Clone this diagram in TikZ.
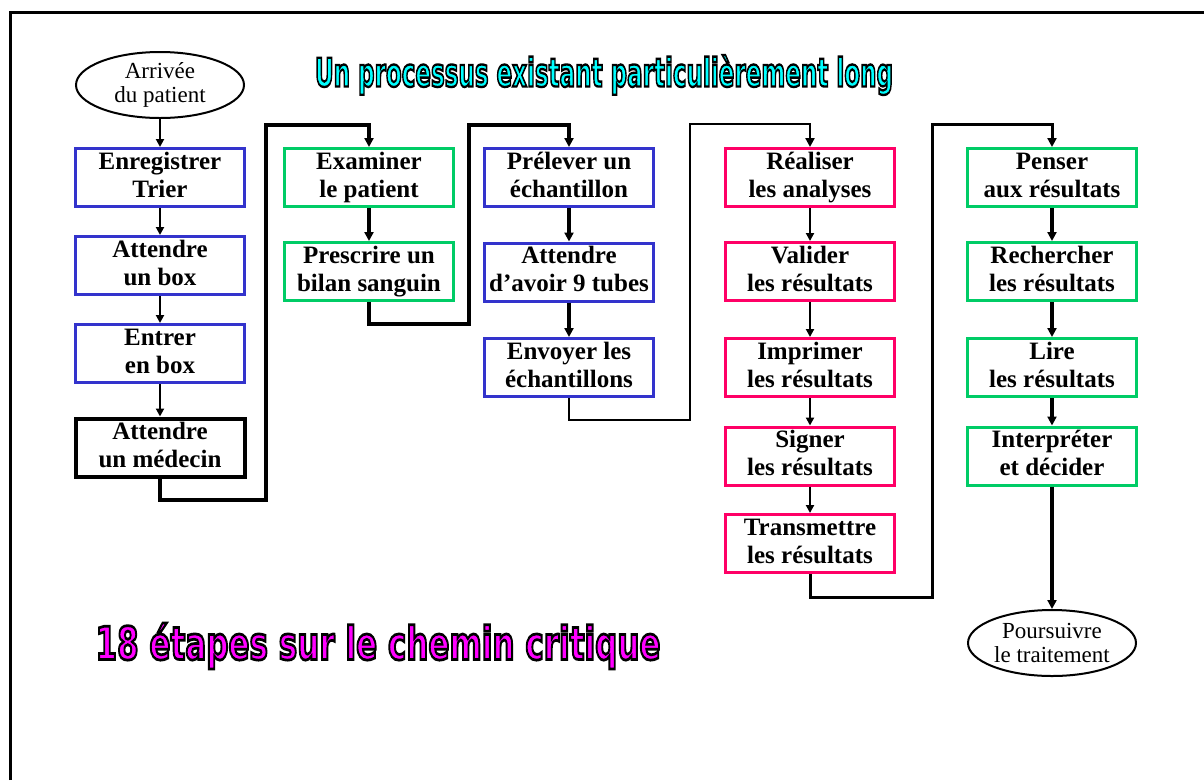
\documentclass[tikz,border=0pt]{standalone}
\usepackage{fontspec}
\setmainfont{Liberation Serif}
\newfontfamily\heavyfont{DejaVu Sans}[FakeBold=6]
\usepackage{graphicx}
\usetikzlibrary{arrows.meta,shapes.geometric}

\definecolor{boxblue}{RGB}{51,51,204}
\definecolor{boxgreen}{RGB}{0,204,102}
\definecolor{boxpink}{RGB}{255,0,102}
\definecolor{titlecyan}{RGB}{0,255,255}
\definecolor{notemagenta}{RGB}{255,0,255}

% heavy banner lettering: coloured fill, black stroked outline
\newcommand\bannerword[4]{%
  \resizebox*{#2}{#3}{\color{#1}\special{pdf:code 0 0 0 RG}\heavyfont\bfseries #4}}

% two-line step label with fixed line heights, so accents do not shift it
\newcommand\twoline[2]{\rule{0pt}{23pt}#1\\#2\rule[-11.5pt]{0pt}{11.5pt}}

\tikzset{
  stepbox/.style={draw, rectangle, line width=3pt, minimum width=169pt,
    minimum height=58pt, inner xsep=0pt, inner ysep=-2.25pt, align=center,
    font=\fontsize{25}{28}\selectfont\bfseries},
  bluebox/.style={stepbox, draw=boxblue},
  greenbox/.style={stepbox, draw=boxgreen},
  pinkbox/.style={stepbox, draw=boxpink},
  blackbox/.style={stepbox, draw=black, line width=4pt},
  terminal/.style={draw, ellipse, line width=2pt, minimum width=168pt,
    minimum height=66pt, inner sep=0pt, align=center,
    font=\fontsize{23}{24}\selectfont},
  thinflow/.style={line width=2pt, -{Triangle[width=8pt,length=8pt]}},
  thickflow/.style={line width=3.5pt, -{Triangle[width=9pt,length=9pt]}},
  linkflow/.style={line width=3.5pt, -{Triangle[width=9pt,length=9pt]}},
  bannertext/.style={inner sep=0pt, anchor=center},
}

\begin{document}
\begin{tikzpicture}[x=1pt, y=-1pt]
  \useasboundingbox (0,0) rectangle (1204,780);
  \fill[white] (0,0) rectangle (1204,780);

  % page frame (top and left edges)
  \draw[line width=3pt] (10.5,780) -- (10.5,12.5) -- (1204,12.5);

  % banners
  \node[bannertext] (head) at (604,75)
    {\bannerword{titlecyan}{578pt}{40pt}{Un processus existant particulièrement long}};
  \node[bannertext] (foot) at (378,646)
    {\bannerword{notemagenta}{565pt}{46pt}{18 étapes sur le chemin critique}};

  % start and end
  \node[terminal] (start) at (160,85) {Arrivée\\du patient};
  \node[terminal] (finish) at (1052,643) {Poursuivre\\le traitement};

  % column 1
  \node[bluebox]  (a1) at (160,177.5) {\twoline{Enregistrer}{Trier}};
  \node[bluebox]  (a2) at (160,265.5) {\twoline{Attendre}{un box}};
  \node[bluebox]  (a3) at (160,353.5) {\twoline{Entrer}{en box}};
  \node[blackbox] (a4) at (160,447.5) {\twoline{Attendre}{un médecin}};

  % column 2
  \node[greenbox] (b1) at (369,177.5) {\twoline{Examiner}{le patient}};
  \node[greenbox] (b2) at (369,271.5) {\twoline{Prescrire un}{bilan sanguin}};

  % column 3
  \node[bluebox] (c1) at (569,177.5) {\twoline{Prélever un}{échantillon}};
  \node[bluebox] (c2) at (569,272)   {\twoline{Attendre}{d’avoir 9 tubes}};
  \node[bluebox] (c3) at (569,367.5) {\twoline{Envoyer les}{échantillons}};

  % column 4
  \node[pinkbox] (d1) at (810,177.5) {\twoline{Réaliser}{les analyses}};
  \node[pinkbox] (d2) at (810,271.5) {\twoline{Valider}{les résultats}};
  \node[pinkbox] (d3) at (810,367.5) {\twoline{Imprimer}{les résultats}};
  \node[pinkbox] (d4) at (810,456)   {\twoline{Signer}{les résultats}};
  \node[pinkbox] (d5) at (810,543.5) {\twoline{Transmettre}{les résultats}};

  % column 5
  \node[greenbox] (e1) at (1052,177.5) {\twoline{Penser}{aux résultats}};
  \node[greenbox] (e2) at (1052,271.5) {\twoline{Rechercher}{les résultats}};
  \node[greenbox] (e3) at (1052,367.5) {\twoline{Lire}{les résultats}};
  \node[greenbox] (e4) at (1052,456)   {\twoline{Interpréter}{et décider}};

  % turning points of the column links
  \coordinate (r1) at (266,500);  \coordinate (t1) at (266,125);
  \coordinate (r2) at (469,324);  \coordinate (t2) at (469,125);
  \coordinate (r3) at (690,420);  \coordinate (t3) at (690,124);
  \coordinate (r4) at (932,597);  \coordinate (t4) at (932,124);

  % flow inside columns
  \draw[thinflow] (start) -- (a1);
  \draw[thinflow] (a1) -- (a2);
  \draw[thinflow] (a2) -- (a3);
  \draw[thinflow] (a3) -- (a4);

  \draw[thickflow] (b1) -- (b2);

  \draw[thickflow] (c1) -- (c2);
  \draw[thickflow] (c2) -- (c3);

  \draw[thinflow] (d1) -- (d2);
  \draw[thinflow] (d2) -- (d3);
  \draw[thinflow] (d3) -- (d4);
  \draw[thinflow] (d4) -- (d5);

  \draw[thickflow] (e1) -- (e2);
  \draw[thickflow] (e2) -- (e3);
  \draw[thickflow] (e3) -- (e4);
  \draw[thickflow] (e4) -- (finish);

  % links between columns
  \draw[linkflow] (a4.south) |- (r1) -- (t1) -| (b1.north);
  \draw[linkflow] (b2.south) |- (r2) -- (t2) -| (c1.north);
  \draw[linkflow, line width=2.5pt] (c3.south) |- (r3) -- (t3) -| (d1.north);
  \draw[linkflow, line width=3pt] (d5.south) |- (r4) -- (t4) -| (e1.north);
\end{tikzpicture}
\end{document}
